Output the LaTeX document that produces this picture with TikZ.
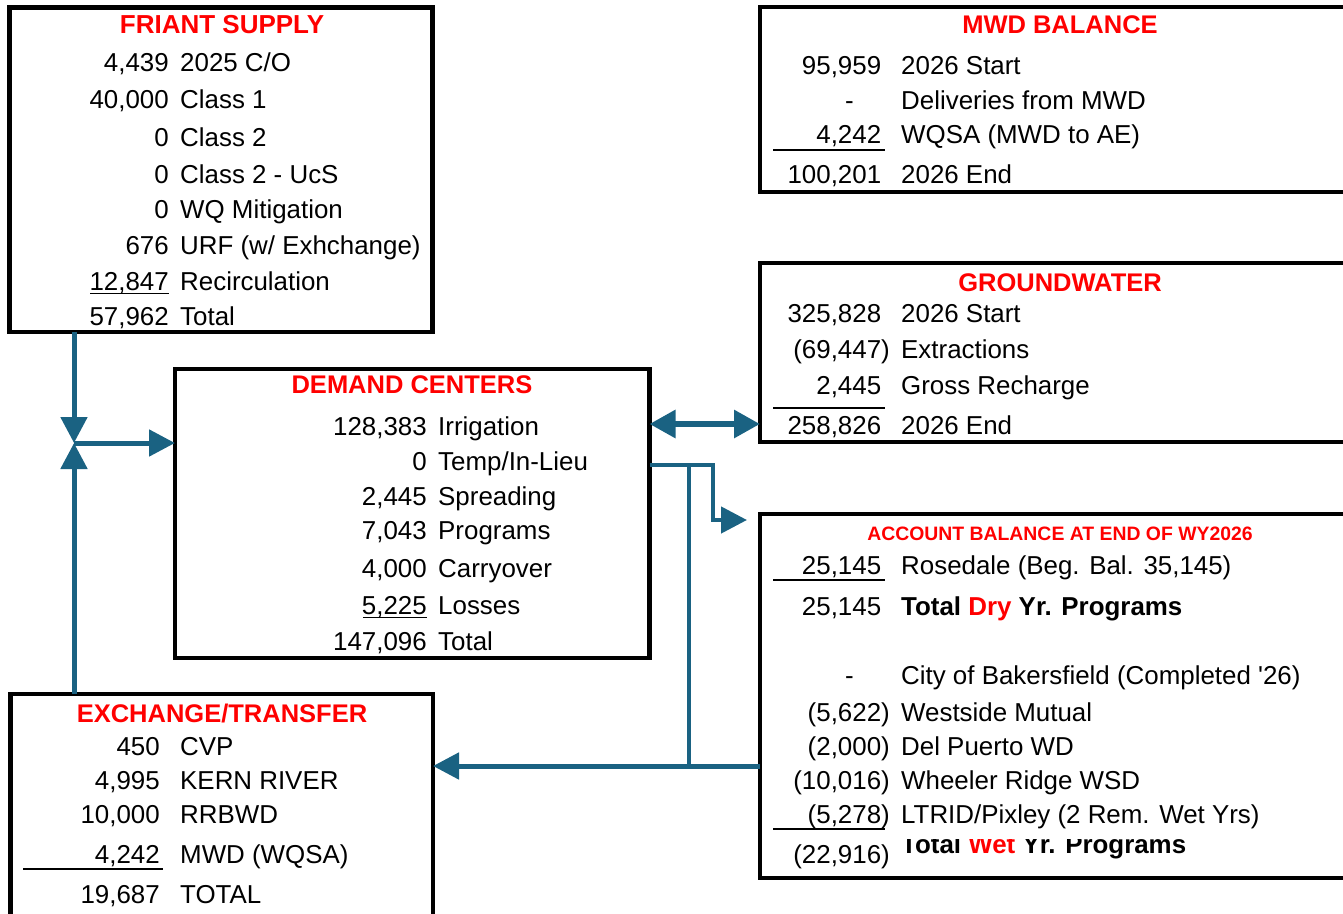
\documentclass[tikz,border=0pt]{standalone}
\usepackage{fontspec}
\setmainfont{Liberation Sans}
\usetikzlibrary{arrows.meta}
\definecolor{flowblue}{RGB}{26,98,130}
\newcounter{rwc}
\newcommand\bodyf{\fontsize{25.9}{31}\selectfont}
\newcommand\titlef{\fontsize{25.5}{30}\selectfont}
\newcommand\rw[5]{\stepcounter{rwc}%
 \node[numtxt] (rn\arabic{rwc}) at (#1,{-(#3)-9}) {#4};%
 \node[labtxt] (rl\arabic{rwc}) at (#2,{-(#3)-9}) {#5};}
\newcommand\pp{\phantom{)}}
\begin{document}
\begin{tikzpicture}[x=1pt,y=1pt,
 panel/.style={draw=black,line width=4.5pt,inner sep=0pt,outer sep=0pt,anchor=north west,rectangle},
 numtxt/.style={anchor=base east,inner sep=0pt,font=\bodyf},
 labtxt/.style={anchor=base west,inner sep=0pt,font=\bodyf},
 ttlf/.style={anchor=base,inner sep=0pt,text=red,font=\bfseries\titlef},
 sumrule/.style={line width=1.8pt},
 flow/.style={draw=flowblue,line width=5pt},
 flowtip/.style={-{Triangle[width=26pt,length=26pt]}},
]
\useasboundingbox (0,0) rectangle (1343,-913);

% panels
\node[panel, minimum width=423pt, minimum height=324.5pt] (friant) at (9.5,-7.5) {};
\node[panel, minimum width=474.5pt, minimum height=289pt] (demand) at (175,-369) {};
\node[panel, minimum width=422.5pt, minimum height=232pt] (exch) at (10.5,-694) {};
\node[panel, minimum width=600pt, minimum height=185pt] (mwd) at (760,-7) {};
\node[panel, minimum width=600pt, minimum height=179pt] (gw) at (760,-263) {};
\node[panel, minimum width=600pt, minimum height=364pt] (acct) at (760,-514) {};

% titles
\node[ttlf, font=\bfseries\fontsize{26}{31}\selectfont] (tfriant) at (222,-33) {FRIANT SUPPLY};
\node[ttlf] (tdemand) at (412,-393) {DEMAND CENTERS};
\node[ttlf] (texch) at (222,-722) {EXCHANGE/TRANSFER};
\node[ttlf] (tmwd) at (1060,-33) {MWD BALANCE};
\node[ttlf] (tgw) at (1060,-291) {GROUNDWATER};
\node[ttlf, font=\bfseries\fontsize{19.4}{23}\selectfont] (tacct) at (1060,-540) {ACCOUNT BALANCE AT END OF WY2026};

% Friant supply rows
\rw{169}{180}{62}{4,439}{2025 C/O}
\rw{169}{180}{99}{40,000}{Class 1}
\rw{169}{180}{137}{0}{Class 2}
\rw{169}{180}{174}{0}{Class 2 - UcS}
\rw{169}{180}{209}{0}{WQ Mitigation}
\rw{169}{180}{245}{676}{URF (w/ Exhchange)}
\rw{169}{180}{281}{12,847}{Recirculation}
\rw{169}{180}{316}{57,962}{Total}
\draw[sumrule] (90,-293.5) -- (169,-293.5);

% Demand centers rows
\rw{427}{438}{426}{128,383}{Irrigation}
\rw{427}{438}{461}{0}{Temp/In-Lieu}
\rw{427}{438}{496}{2,445}{Spreading}
\rw{427}{438}{530}{7,043}{Programs}
\rw{427}{438}{568}{4,000}{Carryover}
\rw{427}{438}{605}{5,225}{Losses}
\rw{427}{438}{641}{147,096}{Total}
\draw[sumrule] (363,-617.5) -- (427,-617.5);

% Exchange / transfer rows
\rw{160}{180}{746}{450}{CVP}
\rw{160}{180}{780}{4,995}{KERN RIVER}
\rw{160}{180}{814}{10,000}{RRBWD}
\rw{160}{180}{854}{4,242}{MWD (WQSA)}
\rw{160}{180}{894}{19,687}{TOTAL}
\draw[sumrule] (23,-869) -- (163,-869);

% MWD balance rows
\rw{890}{901}{65}{95,959\pp}{2026 Start}
\rw{854}{901}{100}{-}{Deliveries from MWD}
\rw{890}{901}{134}{4,242\pp}{WQSA (MWD to AE)}
\rw{890}{901}{174}{100,201\pp}{2026 End}
\draw[sumrule] (773,-150) -- (885,-150);

% Groundwater rows
\rw{890}{901}{313}{325,828\pp}{2026 Start}
\rw{890}{901}{349}{(69,447)}{Extractions}
\rw{890}{901}{385}{2,445\pp}{Gross Recharge}
\rw{890}{901}{425}{258,826\pp}{2026 End}
\draw[sumrule] (773,-408) -- (885,-408);

% Account balance rows
\rw{890}{901}{565}{25,145\pp}{Rosedale (Beg. Bal. 35,145)}
\draw[sumrule] (773,-580) -- (885,-580);
\rw{890}{901}{606}{25,145\pp}{\textbf{Total \textcolor{red}{Dry} Yr. Programs}}
\rw{854}{901}{675}{-}{City of Bakersfield (Completed \textquotesingle 26)}
\rw{890}{901}{712}{(5,622)}{Westside Mutual}
\rw{890}{901}{746}{(2,000)}{Del Puerto WD}
\rw{890}{901}{780}{(10,016)}{Wheeler Ridge WSD}
\rw{890}{901}{814}{(5,278)}{LTRID/Pixley (2 Rem. Wet Yrs)}
\draw[sumrule] (773,-829) -- (885,-829);
\node[numtxt] (wettot) at (890,-863) {(22,916)};
\begin{scope}
\clip (895,-839) rectangle (1250,-875);
\node[labtxt] (wetlab) at (901,-853) {\textbf{Total \textcolor{red}{Wet} Yr. Programs}};
\end{scope}

% connectors
\coordinate (jn) at (74,-443);
\draw[flow, flowtip] (friant.south -| jn) -- (jn);
\draw[flow, flowtip] (exch.north -| jn) -- (jn);
\draw[flow, flowtip] (jn) -- (demand.west |- jn);

\coordinate (gwy) at (0,-424);
\draw[flow, line width=6pt, {Triangle[width=27pt,length=26pt]}-{Triangle[width=27pt,length=26pt]}] (demand.east |- gwy) -- (gw.west |- gwy);

\coordinate (dy) at (0,-465);
\coordinate (elb) at (713,-520);
\coordinate (acctip) at (747,-520);
\draw[flow, line width=4.5pt, flowtip] (demand.east |- dy) -| (elb) -- (acctip);

\coordinate (brA) at (689,-465);
\coordinate (brB) at (689,-766);
\draw[flow, line width=4.5pt] (brA) -- (brB);
\draw[flow, flowtip] (acct.west |- brB) -- (exch.east |- brB);
\end{tikzpicture}
\end{document}
